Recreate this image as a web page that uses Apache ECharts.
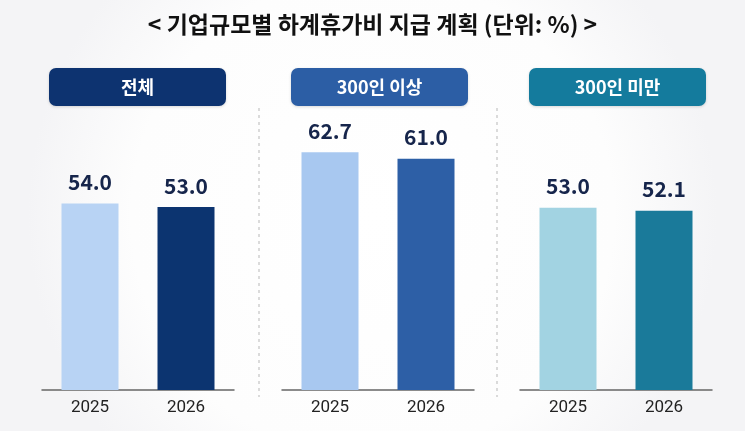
<!DOCTYPE html>
<html>
<head>
<meta charset="utf-8">
<script src="https://cdn.jsdelivr.net/npm/echarts@6/dist/echarts.min.js"></script>
<style>
html,body{margin:0;padding:0;background:#fff;}
#c{width:745px;height:431px;}
</style>
</head>
<body>
<div id="c"></div>
<script>
const chartTitle = '< 기업규모별 하계휴가비 지급 계획 (단위: %) >';
const categories = ['2025', '2026'];
const panelTitles = ['전체', '300인 이상', '300인 미만'];
const totalValues = [54.0, 53.0];
const over300Values = [62.7, 61.0];
const under300Values = [53.0, 52.1];

const panelData = [totalValues, over300Values, under300Values];
const barColors = [
  ['#b8d3f4', '#0c3470'],
  ['#a8c8f0', '#2d5fa6'],
  ['#a2d3e2', '#1a7a9a']
];
const pillColors = ['#0d3370', '#2c5ea5', '#147b9d'];
const gridLefts = [42, 282, 520];
const gridWidth = 192;
const yMax = [81.7, 74.4, 82];
const pillX = [49, 291, 529];
const pillW = 177;

const chart = echarts.init(document.getElementById('c'), null, {renderer: 'canvas'});

const grids = [], xAxes = [], yAxes = [], series = [], graphics = [];
for (let i = 0; i < 3; i++) {
  grids.push({left: gridLefts[i], width: gridWidth, top: 108, bottom: 41});
  xAxes.push({
    type: 'category', gridIndex: i, data: categories,
    axisLine: {show: true, lineStyle: {color: '#666', width: 1.5}},
    axisTick: {show: false},
    axisLabel: {color: '#222', fontSize: 17, margin: 9, fontFamily: 'Roboto, sans-serif'}
  });
  yAxes.push({
    type: 'value', gridIndex: i, min: 0, max: yMax[i], show: false,
    splitLine: {show: false}
  });
  series.push({
    type: 'bar', xAxisIndex: i, yAxisIndex: i, barWidth: 57,
    data: panelData[i].map((v, j) => ({value: v, itemStyle: {color: barColors[i][j]}})),
    label: {
      show: true, position: 'top', distance: 11,
      formatter: p => p.value.toFixed(1),
      color: '#16254b', fontSize: 21, fontWeight: 'bold',
      fontFamily: '"Noto Sans CJK KR", "Noto Sans", sans-serif'
    }
  });
  graphics.push({
    type: 'group', left: pillX[i], top: 68,
    children: [
      {type: 'rect', shape: {x: 0, y: 0, width: pillW, height: 38, r: 7},
       style: {fill: pillColors[i], shadowBlur: 3, shadowColor: 'rgba(0,0,0,0.15)', shadowOffsetY: 1}},
      {type: 'text', x: pillW / 2, y: 19,
       style: {text: panelTitles[i], fill: '#fff', fontSize: 18, fontWeight: 'bold',
               fontFamily: '"Noto Sans CJK KR", sans-serif', align: 'center', verticalAlign: 'middle'}}
    ]
  });
}
[259, 497].forEach(x => {
  graphics.push({
    type: 'line', shape: {x1: x, y1: 108, x2: x, y2: 397},
    style: {stroke: '#c4c4c4', lineWidth: 1.2, lineDash: [3, 4]}
  });
});

chart.setOption({
  backgroundColor: {
    type: 'radial', x: 0.5, y: 0.5, r: 0.8,
    colorStops: [{offset: 0, color: '#ffffff'}, {offset: 0.7, color: '#fdfdfd'}, {offset: 1, color: '#f4f4f6'}]
  },
  animation: false,
  title: {
    text: chartTitle, left: 'center', top: 8,
    textStyle: {fontSize: 23, fontWeight: 'bold', color: '#111', fontFamily: '"Noto Sans CJK KR", sans-serif'}
  },
  grid: grids, xAxis: xAxes, yAxis: yAxes, series: series,
  graphic: graphics
});
</script>
</body>
</html>
